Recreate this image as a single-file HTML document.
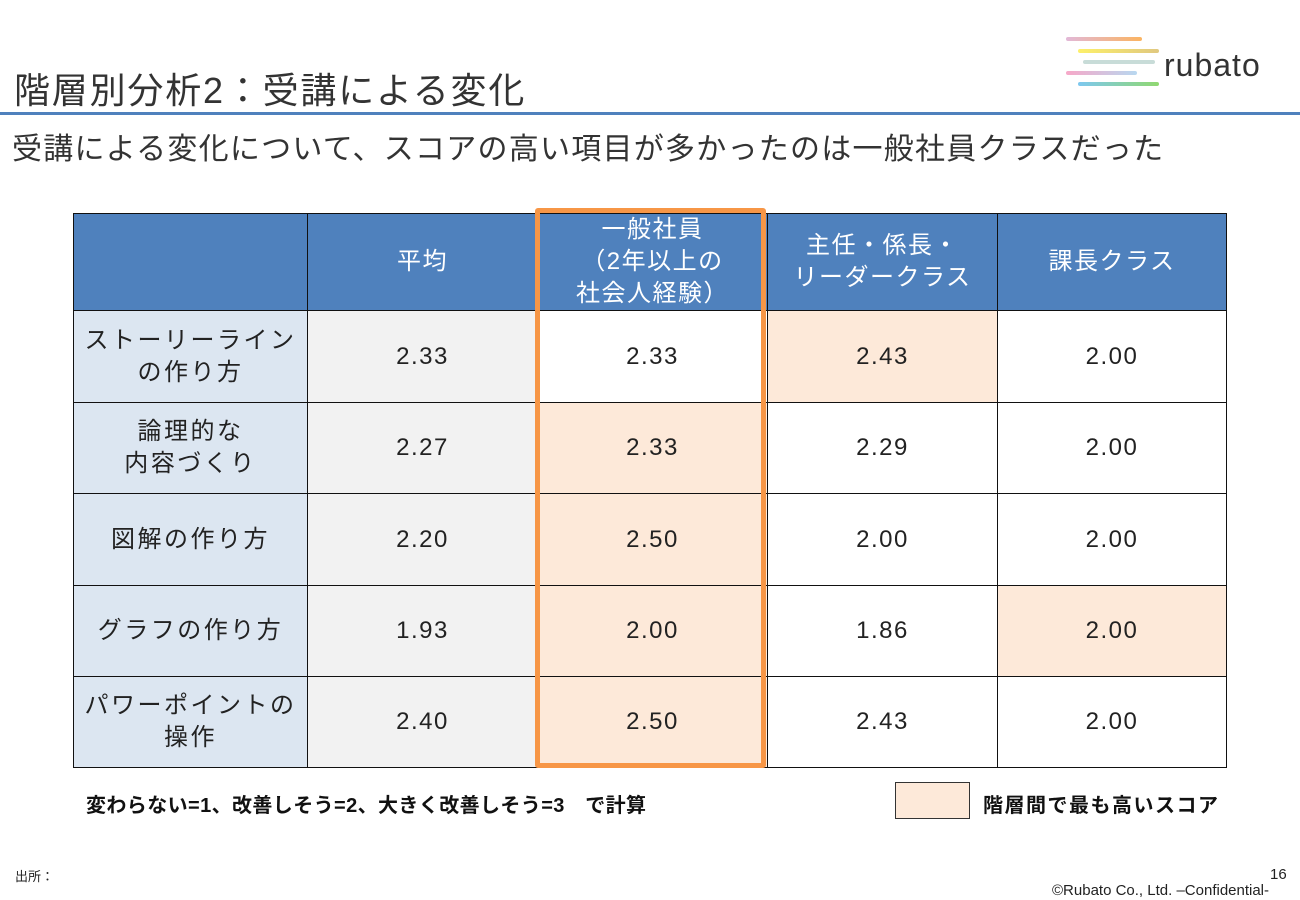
<!DOCTYPE html>
<html><head><meta charset="utf-8"><style>
body{margin:0;width:1300px;height:900px;background:#fff;position:relative;overflow:hidden;font-family:"Liberation Sans","Noto Sans CJK JP",sans-serif;color:#222}
.a{position:absolute}
.c{position:absolute;display:flex;align-items:center;justify-content:center;text-align:center;box-sizing:border-box;font-size:24px;line-height:32px;border:1.5px solid #111;letter-spacing:1.5px}
.h{background:#4f81bd;color:#fff}
.l{background:#dce6f1;letter-spacing:2.5px}
.g{background:#f2f2f2}
.w{background:#fff}
.o{background:#fde9d9}
</style></head><body>
<div class="a" style="left:14px;top:62px;font-size:36px;color:#333;letter-spacing:1.8px">階層別分析2：受講による変化</div>
<div class="a" style="left:0;top:112px;width:1300px;height:3px;background:#4f81bd"></div>
<div class="a" style="left:12px;top:124px;font-size:30px;color:#333;letter-spacing:1.25px">受講による変化について、スコアの高い項目が多かったのは一般社員クラスだった</div>
<svg class="a" style="left:1060px;top:30px" width="220" height="65">
<defs><linearGradient id="g1" gradientUnits="userSpaceOnUse" x1="6" x2="82"><stop offset="0" stop-color="#e2b8d8"/><stop offset="1" stop-color="#fbb461"/></linearGradient>
<linearGradient id="g2" gradientUnits="userSpaceOnUse" x1="18" x2="99"><stop offset="0" stop-color="#fdf06a"/><stop offset="1" stop-color="#e0c880"/></linearGradient>
<linearGradient id="g4" gradientUnits="userSpaceOnUse" x1="6" x2="77"><stop offset="0" stop-color="#f7a8c8"/><stop offset="1" stop-color="#b8d8f0"/></linearGradient>
<linearGradient id="g5" gradientUnits="userSpaceOnUse" x1="18" x2="99"><stop offset="0" stop-color="#7ec8f0"/><stop offset="1" stop-color="#90d870"/></linearGradient></defs>
<rect x="6" y="7" width="76" height="4" rx="2" fill="url(#g1)"/>
<rect x="18" y="19" width="81" height="4" rx="2" fill="url(#g2)"/>
<rect x="23" y="30" width="72" height="4" rx="2" fill="#c8dcd8"/>
<rect x="6" y="41" width="71" height="4" rx="2" fill="url(#g4)"/>
<rect x="18" y="52" width="81" height="4" rx="2" fill="url(#g5)"/>
<text x="104" y="46" font-size="32" fill="#333" font-family="Liberation Sans, sans-serif" letter-spacing="1">rubato</text></svg>
<div id="t"></div>
<div class="a" style="left:535px;top:208px;width:231px;height:560px;box-sizing:border-box;border:5px solid #f79646;border-radius:3px"></div>
<div class="a" style="left:86px;top:789px;font-size:20px;font-weight:bold;color:#111;letter-spacing:0.4px">変わらない=1、改善しそう=2、大きく改善しそう=3　で計算</div>
<div class="a" style="left:895px;top:782px;width:75px;height:37px;background:#fde9d9;border:1px solid #333;box-sizing:border-box"></div>
<div class="a" style="left:983px;top:789px;font-size:20px;font-weight:bold;color:#111;letter-spacing:1.5px">階層間で最も高いスコア</div>
<div class="a" style="left:15px;top:866px;font-size:13px">出所：</div>
<div class="a" style="left:1270px;top:866px;font-size:15px">16</div>
<div class="a" style="left:1052px;top:882px;font-size:15px">©Rubato Co., Ltd. –Confidential-</div>
<script>
const headers=["","平均","一般社員<br>（2年以上の<br>社会人経験）","主任・係長・<br>リーダークラス","課長クラス"];
const rows=["ストーリーライン<br>の作り方","論理的な<br>内容づくり","図解の作り方","グラフの作り方","パワーポイントの<br>操作"];
const avg=["2.33","2.27","2.20","1.93","2.40"];
const staff=["2.33","2.33","2.50","2.00","2.50"];
const chief=["2.43","2.29","2.00","1.86","2.43"];
const mgr=["2.00","2.00","2.00","2.00","2.00"];
const colX=[73,307,537,767,997,1226];
const rowY=[213,310,402,493,585,676,767];
const t=document.getElementById('t');
function cell(x0,x1,y0,y1,cls,html){const d=document.createElement('div');d.className='c '+cls;d.style.left=x0+'px';d.style.top=y0+'px';d.style.width=(x1-x0+1)+'px';d.style.height=(y1-y0+1)+'px';d.innerHTML=html;t.appendChild(d);return d;}
headers.forEach((h,i)=>{const d=cell(colX[i],colX[i+1],rowY[0],rowY[1],'h',h);

});
const cols=[avg,staff,chief,mgr];
rows.forEach((r,j)=>{const d=cell(colX[0],colX[1],rowY[j+1],rowY[j+2],'l',r);


const vals=cols.map(c=>parseFloat(c[j]));const mx=Math.max(vals[1],vals[2],vals[3]);
cols.forEach((c,i)=>{let cls=i===0?'g':(parseFloat(c[j])===mx?'o':'w');
const e=cell(colX[i+1],colX[i+2],rowY[j+1],rowY[j+2],cls,c[j]);

});});
</script>
</body></html>
